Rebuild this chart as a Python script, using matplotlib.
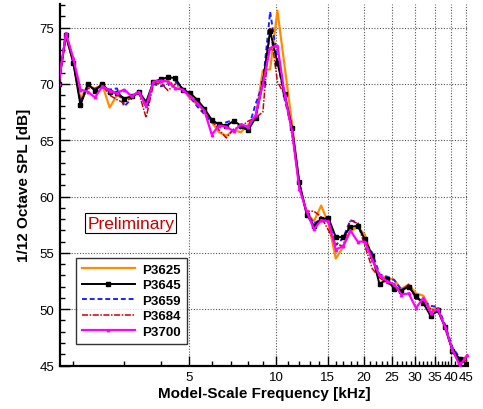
import numpy as np
import matplotlib
matplotlib.use("Agg")
import matplotlib.pyplot as plt
from matplotlib.ticker import FixedLocator, NullFormatter, FixedFormatter

plt.rcParams['font.family'] = ['Liberation Sans', 'DejaVu Sans']

# 1/12-octave band centre frequencies [kHz]
freq = [2 ** (k / 12.0) for k in range(10, 67)]

p3625 = [70.0, 74.3, 72.0, 68.7, 69.8, 69.6, 69.9, 67.9, 69.0, 68.7, 68.8, 69.2, 68.2, 70.1, 70.3, 70.3,
         69.6, 69.6, 68.7, 68.2, 67.6, 66.6, 65.7, 65.4, 65.9, 65.7, 66.4, 67.0, 71.2, 71.3, 76.5, 71.5,
         66.5, 61.0, 58.6, 57.8, 59.2, 57.6, 54.5, 55.5, 56.9, 57.3, 56.6, 54.5, 53.0, 52.8, 52.6, 51.8,
         52.2, 51.4, 51.2, 50.0, 50.1, 48.3, 46.4, 45.2, 45.9]
p3645 = [70.0, 74.3, 71.9, 68.1, 70.0, 69.4, 70.0, 69.3, 69.2, 68.7, 68.9, 69.3, 68.4, 70.2, 70.4, 70.6,
         70.5, 69.5, 69.2, 68.6, 67.8, 66.8, 66.4, 66.3, 66.7, 66.3, 65.9, 67.0, 70.1, 74.7, 71.9, 69.1,
         66.1, 61.3, 58.4, 57.4, 58.0, 58.1, 56.4, 56.4, 57.3, 57.4, 56.2, 54.75, 52.2, 52.7, 51.8, 51.65,
         52.0, 51.15, 50.55, 49.4, 49.9, 48.4, 46.3, 45.6, 45.1]
p3659 = [70.0, 74.6, 72.0, 68.4, 69.9, 69.5, 69.7, 69.5, 69.6, 68.0, 68.7, 69.4, 67.9, 70.0, 69.8, 69.9,
         70.2, 69.6, 68.9, 68.0, 67.3, 66.6, 66.3, 66.6, 66.8, 66.0, 66.0, 68.2, 70.0, 76.4, 72.2, 68.6,
         66.0, 60.9, 58.6, 57.6, 58.0, 57.8, 55.7, 56.3, 57.9, 57.7, 56.0, 55.0, 53.1, 52.9, 52.6, 51.7,
         52.1, 51.0, 50.7, 50.3, 50.2, 48.6, 46.6, 45.7, 45.6]
p3684 = [70.0, 74.2, 72.0, 68.3, 69.6, 69.6, 69.9, 69.0, 68.6, 68.3, 68.8, 69.2, 67.0, 70.0, 70.1, 69.4,
         70.0, 69.5, 69.0, 68.4, 67.7, 66.8, 65.9, 65.2, 66.0, 66.2, 66.7, 67.0, 67.5, 75.0, 70.2, 69.0,
         65.5, 61.0, 58.7, 58.7, 58.2, 57.0, 55.8, 55.6, 57.9, 57.6, 55.6, 53.6, 52.8, 52.3, 52.1, 51.6,
         52.2, 50.9, 50.8, 50.0, 49.8, 48.4, 46.2, 45.3, 45.5]
p3700 = [70.0, 74.5, 72.3, 69.5, 69.3, 68.8, 69.8, 69.4, 69.2, 69.5, 68.9, 69.3, 68.0, 70.2, 70.3, 70.2,
         69.6, 69.5, 68.9, 68.3, 67.6, 65.5, 66.3, 66.2, 65.8, 66.4, 66.2, 67.2, 70.0, 73.2, 73.4, 69.0,
         65.8, 60.7, 58.7, 57.1, 57.9, 57.8, 55.3, 55.6, 57.0, 56.0, 56.0, 54.4, 53.0, 52.5, 52.2, 51.3,
         51.4, 50.1, 51.0, 49.7, 50.0, 48.4, 46.4, 45.0, 45.9]

x_major = [5, 10, 15, 20, 25, 30, 35, 40, 45]
x_minor = [2, 3, 4, 6, 7, 8, 9] + [v for v in range(11, 45) if v % 5 != 0]
y_major = [45, 50, 55, 60, 65, 70, 75]

fig = plt.figure(figsize=(4.83, 4.10), dpi=100)
ax = fig.add_axes([0.124, 0.106, 0.845, 0.882])

ax.plot(freq, p3625, color='#ff8c00', lw=1.6, label='P3625', zorder=3)
ax.plot(freq, p3645, color='black', lw=1.4, marker='s', ms=3, label='P3645', zorder=4)
ax.plot(freq, p3659, color='#1f1fff', lw=1.4, ls=(0, (2.5, 1.5)), label='P3659', zorder=3)
ax.plot(freq, p3684, color='#cc0000', lw=1.1, ls=(0, (4, 1, 1, 1)), label='P3684', zorder=3)
ax.plot(freq, p3700, color='#ff00ff', lw=1.6, marker='^', ms=1.8, label='P3700', zorder=5)

ax.set_xscale('log')
ax.set_xlim(1.8, 45.6)
ax.set_ylim(45, 77.1)
ax.xaxis.set_major_locator(FixedLocator(x_major))
ax.xaxis.set_major_formatter(FixedFormatter([str(v) for v in x_major]))
ax.xaxis.set_minor_locator(FixedLocator(x_minor))
ax.xaxis.set_minor_formatter(NullFormatter())
ax.yaxis.set_major_locator(FixedLocator(y_major))
ax.yaxis.set_minor_locator(FixedLocator(list(range(45, 78))))

ax.tick_params(which='both', direction='in', labelsize=9.5, width=1.0)
ax.tick_params(which='major', length=7, pad=4)
ax.tick_params(which='minor', length=3.5)
ax.grid(True, which='major', color='#555555', ls=(0, (1, 1.5)), lw=0.8)
for s in ['top', 'right']:
    ax.spines[s].set_visible(False)
for s in ['left', 'bottom']:
    ax.spines[s].set_linewidth(1.6)

ax.set_xlabel('Model-Scale Frequency [kHz]', fontsize=11, fontweight='bold', labelpad=2)
ax.set_ylabel('1/12 Octave SPL [dB]', fontsize=11, fontweight='bold', labelpad=6)

ax.text(0.174, 0.394, 'Preliminary', transform=ax.transAxes, color='#cc0000', fontsize=12.5,
        ha='center', va='center',
        bbox=dict(boxstyle='square,pad=0.12', fc='white', ec='black', lw=0.8))

leg = ax.legend(loc='lower left', bbox_to_anchor=(0.039, 0.06), frameon=True, fancybox=False,
                edgecolor='black', handlelength=4.0, handletextpad=0.6, borderpad=0.45,
                borderaxespad=0, numpoints=1,
                labelspacing=0.25, prop={'weight': 'bold', 'size': 9.5}, markerscale=1.0)
leg.get_frame().set_linewidth(1.0)
leg.set_zorder(10)

fig.savefig('out.png', dpi=100)
